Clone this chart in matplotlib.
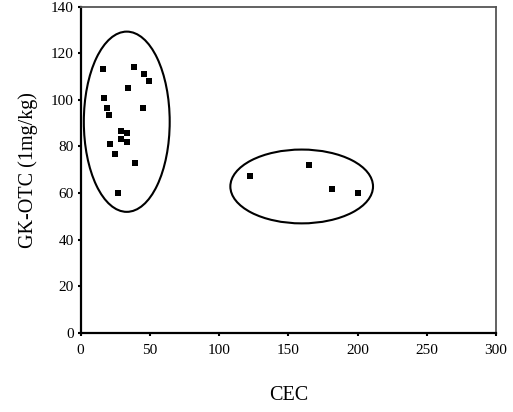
import matplotlib
matplotlib.use("Agg")
import matplotlib.pyplot as plt
from matplotlib.patches import Ellipse

plt.rcParams["font.family"] = ["Liberation Serif", "DejaVu Serif"]

# ── data ─────────────────────────────────────────────────────────────────
cec = [16.1, 38.5, 45.7, 49.8, 34.6, 16.8, 19.2, 45.0, 20.9, 28.9, 33.9,
       28.9, 33.9, 21.6, 24.8, 39.4, 27.4,
       122.4, 165.3, 181.4, 200.6]
gk_otc = [113.1, 114.2, 110.9, 107.9, 105.0, 100.7, 96.5, 96.5, 93.6, 86.5,
          85.9, 83.0, 82.1, 81.0, 76.8, 72.9, 60.1,
          67.2, 71.9, 61.8, 59.9]

# cluster outlines: (centre x, centre y, width, height)
cluster_centres = [(33.4, 90.6), (159.7, 62.8)]
cluster_widths = [62, 103]
cluster_heights = [77.4, 31.7]

x_ticks = [0, 50, 100, 150, 200, 250, 300]
y_ticks = [0, 20, 40, 60, 80, 100, 120, 140]

fig = plt.figure(figsize=(5.13, 4.12), dpi=100)
ax = fig.add_axes([80.5 / 513, (412 - 332.7) / 412,
                   (496 - 80.5) / 513, (332.7 - 6.7) / 412])

ax.scatter(cec, gk_otc, s=22, marker="s", color="black", linewidths=0, zorder=3)

for (cx, cy), w, h in zip(cluster_centres, cluster_widths, cluster_heights):
    ax.add_patch(Ellipse((cx, cy), w, h, fill=False, ec="black", lw=1.5))

ax.set_xlim(0, 300)
ax.set_ylim(0, 140)
ax.set_xticks(x_ticks)
ax.set_yticks(y_ticks)
ax.tick_params(direction="out", length=2, width=1.5, labelsize=11)
ax.tick_params(axis="x", pad=6)
ax.tick_params(axis="y", pad=3)

for side in ("left", "bottom"):
    ax.spines[side].set_linewidth(1.6)
    ax.spines[side].set_color("black")
for side in ("top", "right"):
    ax.spines[side].set_linewidth(1.3)
    ax.spines[side].set_color("#555555")

ax.set_xlabel("CEC", fontsize=14.5, labelpad=21)
ax.set_ylabel("GK-OTC (1mg/kg)", fontsize=14.5, labelpad=9)

fig.savefig("out.png", dpi=100)
